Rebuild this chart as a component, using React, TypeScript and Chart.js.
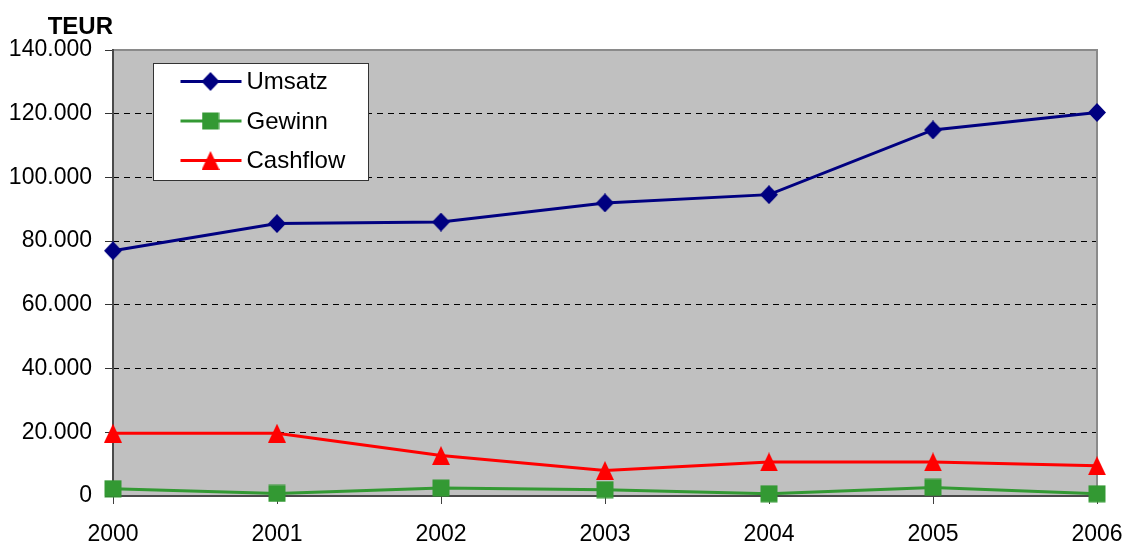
import React, { useEffect, useRef } from "react";
import { Chart, registerables } from "chart.js";

Chart.register(...registerables);

const years = ["2000", "2001", "2002", "2003", "2004", "2005", "2006"];
const umsatz = [77000, 85500, 86000, 92000, 94600, 114900, 120400];
const gewinn = [2300, 800, 2500, 2000, 700, 2700, 700];
const cashflow = [19700, 19700, 12700, 8000, 10700, 10700, 9500];
const seriesNames = ["Umsatz", "Gewinn", "Cashflow"];
const seriesColors = ["#000080", "#339933", "#FF0000"];
const unitLabel = "TEUR";
const yMin = 0;
const yMax = 140000;
const yStep = 20000;

const FONT = "'Liberation Sans', Arial, Helvetica, sans-serif";

function fmt(v: number): string {
  return String(Math.round(v)).replace(/\B(?=(\d{3})+(?!\d))/g, ".");
}

function makeMarker(kind: string, color: string): HTMLCanvasElement {
  const c = document.createElement("canvas");
  let w = 18, h = 18;
  if (kind === "diamond") { w = 18; h = 19; }
  if (kind === "square") { w = 18; h = 18; }
  if (kind === "triangle") { w = 18; h = 19; }
  c.width = w;
  c.height = h;
  const g = c.getContext("2d")!;
  g.fillStyle = color;
  g.beginPath();
  if (kind === "diamond") {
    g.moveTo(w / 2, 0);
    g.lineTo(w, h / 2);
    g.lineTo(w / 2, h);
    g.lineTo(0, h / 2);
  } else if (kind === "square") {
    g.rect(0.5, 0.5, w - 1, h - 1);
  } else {
    g.moveTo(w / 2, 0);
    g.lineTo(w, h);
    g.lineTo(0, h);
  }
  g.closePath();
  g.fill();
  return c;
}

export default function App() {
  const ref = useRef<HTMLCanvasElement | null>(null);

  useEffect(() => {
    const canvas = ref.current;
    if (!canvas) return;
    const markers = [
      makeMarker("diamond", seriesColors[0]),
      makeMarker("square", seriesColors[1]),
      makeMarker("triangle", seriesColors[2]),
    ];

    const framePlugin = {
      id: "frame",
      beforeDraw(chart: any) {
        const { ctx, chartArea: a } = chart;
        ctx.save();
        ctx.fillStyle = "#C0C0C0";
        ctx.fillRect(a.left, a.top, a.right - a.left, a.bottom - a.top);
        ctx.restore();
      },
      beforeDatasetsDraw(chart: any) {
        const { ctx, chartArea: a } = chart;
        ctx.save();
        ctx.lineWidth = 2;
        ctx.strokeStyle = "#8a8a8a";
        ctx.beginPath();
        ctx.moveTo(a.left, a.top);
        ctx.lineTo(a.right, a.top);
        ctx.lineTo(a.right, a.bottom);
        ctx.stroke();
        ctx.strokeStyle = "#4a4a4a";
        ctx.beginPath();
        ctx.moveTo(a.left, a.top - 1);
        ctx.lineTo(a.left, a.bottom);
        ctx.lineTo(a.right + 1, a.bottom);
        ctx.stroke();
        ctx.restore();
      },
      afterDraw(chart: any) {
        const { ctx, chartArea: a } = chart;
        ctx.save();
        // unit label
        ctx.font = "bold 24px " + FONT;
        ctx.fillStyle = "#000";
        ctx.textAlign = "right";
        ctx.textBaseline = "alphabetic";
        ctx.fillText(unitLabel, a.left, a.top - 16);
        // legend
        const bx = a.left + 40.5, by = a.top + 13.5, bw = 215, bh = 117;
        ctx.fillStyle = "#FFFFFF";
        ctx.fillRect(bx, by, bw, bh);
        ctx.strokeStyle = "#333";
        ctx.lineWidth = 1;
        ctx.strokeRect(bx, by, bw, bh);
        ctx.font = "24px " + FONT;
        ctx.textAlign = "left";
        ctx.textBaseline = "middle";
        for (let i = 0; i < seriesNames.length; i++) {
          const cy = by + 18 + i * 39.5;
          ctx.strokeStyle = seriesColors[i];
          ctx.lineWidth = 3;
          ctx.beginPath();
          ctx.moveTo(bx + 27, cy);
          ctx.lineTo(bx + 88, cy);
          ctx.stroke();
          const m = markers[i];
          ctx.drawImage(m, bx + 57 - m.width / 2, cy - m.height / 2);
          ctx.fillStyle = "#000";
          ctx.fillText(seriesNames[i], bx + 93, cy + 1);
        }
        ctx.restore();
      },
    };

    const values = [umsatz, gewinn, cashflow];
    const chart = new Chart(canvas, {
      type: "line",
      data: {
        labels: years,
        datasets: seriesNames.map((name, i) => ({
          label: name,
          data: values[i],
          borderColor: seriesColors[i],
          backgroundColor: seriesColors[i],
          borderWidth: 3,
          tension: 0,
          fill: false,
          clip: false as any,
          pointStyle: markers[i] as any,
          pointRadius: 9,
        })),
      },
      options: {
        animation: false,
        responsive: false,
        devicePixelRatio: 1,
        events: [],
        layout: { padding: { top: 50, right: 31, left: 0, bottom: 0 } },
        plugins: {
          legend: { display: false },
          tooltip: { enabled: false },
          title: { display: false },
        },
        scales: {
          x: {
            type: "category",
            offset: false,
            grid: {
              drawOnChartArea: false,
              drawTicks: true,
              tickLength: 8,
              tickColor: "#404040",
              tickWidth: 1,
            },
            border: { display: false },
            ticks: {
              color: "#000",
              font: { family: FONT, size: 23 },
              padding: 17,
              maxRotation: 0,
              autoSkip: false,
            },
            afterFit(scale: any) {
              scale.height = 49;
              scale.paddingLeft = 0;
              scale.paddingRight = 0;
            },
          },
          y: {
            type: "linear",
            min: yMin,
            max: yMax,
            grid: {
              color: (c: any) => (c.tick && c.tick.value === 0 ? "rgba(0,0,0,0)" : "#000"),
              lineWidth: 1,
              tickLength: 8,
              tickColor: "#333",
              tickWidth: 1,
              tickBorderDash: [],
            },
            border: { display: false, dash: [6, 5] },
            ticks: {
              stepSize: yStep,
              color: "#000",
              font: { family: FONT, size: 23 },
              padding: 13,
              callback: (v: any) => fmt(Number(v)),
            },
            afterFit(scale: any) {
              scale.width = 113;
              scale.paddingTop = 0;
              scale.paddingBottom = 0;
            },
          },
        },
      },
      plugins: [framePlugin],
    });
    return () => chart.destroy();
  }, []);

  return (
    <div style={{ position: "absolute", left: 0, top: 0, width: 1128, height: 545, background: "#fff" }}>
      <canvas ref={ref} width={1128} height={545} style={{ display: "block", width: 1128, height: 545 }} />
    </div>
  );
}
